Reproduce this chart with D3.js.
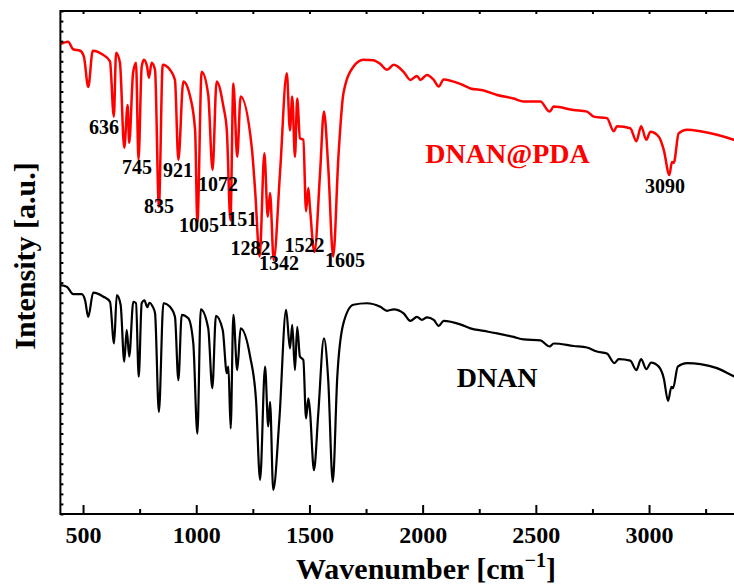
<!DOCTYPE html>
<html>
<head>
<meta charset="utf-8">
<script src="https://cdnjs.cloudflare.com/ajax/libs/d3/7.8.5/d3.min.js"></script>
<style>
  body { margin: 0; background: #fff; }
  svg text { font-family: "Liberation Serif", "Times New Roman", serif; font-weight: bold; }
</style>
</head>
<body>
<script>

var width = 734,
    height = 584;

var margin = { left: 60.4, top: 11, right: 739.6, bottom: 514 };

// DNAN@PDA spectrum, wavenumber / intensity (a.u.)
var pdaWn = [400, 434, 456, 487, 504, 523, 543, 588, 619, 636, 646, 663, 682, 697, 704, 721, 734, 745, 759, 769, 783, 791, 803, 818, 835, 852, 884, 906, 921, 943, 973, 995, 1005, 1024, 1053, 1072, 1090, 1120, 1135, 1151, 1164, 1181, 1196, 1245, 1260, 1280, 1301, 1316, 1326, 1342, 1370, 1400, 1414, 1424, 1436, 1446, 1458, 1473, 1485, 1495, 1502, 1522, 1547, 1564, 1583, 1605, 1628, 1650, 1694, 1738, 1782, 1812, 1843, 1872, 1916, 1946, 1975, 1990, 2019, 2049, 2071, 2093, 2166, 2211, 2270, 2329, 2402, 2446, 2520, 2561, 2579, 2667, 2726, 2756, 2814, 2844, 2859, 2917, 2944, 2965, 2988, 3006, 3043, 3065, 3090, 3101, 3109, 3131, 3168, 3227, 3300, 3374, 3400];
var pdaVal = [93.4, 93.9, 92.4, 92.1, 90.9, 84.9, 92.1, 91.3, 90.0, 79.0, 91.7, 89.7, 72.8, 81.3, 73.8, 87.7, 89.7, 70.4, 88.9, 90.3, 88.9, 86.7, 89.7, 88.3, 61.1, 89.3, 88.3, 86.3, 70.4, 86.0, 83.0, 76.3, 57.9, 87.9, 83.3, 68.4, 86.0, 81.0, 76.3, 58.4, 85.6, 71.0, 83.0, 73.0, 64.4, 51.2, 71.7, 59.1, 63.8, 50.5, 67.8, 87.6, 76.3, 83.0, 71.0, 82.6, 74.7, 74.4, 60.2, 64.8, 61.1, 52.1, 67.8, 80.0, 69.0, 51.2, 71.0, 83.6, 88.9, 90.3, 90.2, 89.5, 88.3, 89.3, 87.9, 86.3, 87.1, 86.3, 87.3, 86.3, 85.0, 86.4, 85.5, 84.6, 84.2, 83.3, 82.6, 82.0, 82.0, 80.0, 81.0, 80.3, 80.0, 79.0, 78.7, 76.1, 77.1, 76.7, 74.1, 77.1, 74.4, 76.0, 75.0, 72.4, 67.4, 70.0, 69.8, 75.7, 76.4, 76.1, 75.4, 74.4, 74.0];

// DNAN spectrum
var dnanWn = [400, 428, 457, 494, 509, 523, 545, 590, 619, 637, 649, 666, 682, 693, 704, 722, 734, 746, 759, 771, 784, 793, 808, 818, 835, 855, 884, 906, 921, 936, 965, 987, 1005, 1020, 1053, 1071, 1087, 1117, 1135, 1142, 1152, 1164, 1181, 1196, 1238, 1264, 1282, 1304, 1318, 1326, 1340, 1367, 1397, 1414, 1424, 1436, 1446, 1458, 1473, 1485, 1495, 1502, 1520, 1539, 1564, 1583, 1603, 1623, 1650, 1694, 1753, 1813, 1843, 1872, 1916, 1946, 1975, 1997, 2019, 2049, 2071, 2093, 2166, 2211, 2270, 2329, 2402, 2446, 2520, 2561, 2579, 2667, 2726, 2770, 2814, 2847, 2866, 2917, 2944, 2965, 2988, 3009, 3043, 3065, 3084, 3099, 3106, 3127, 3168, 3227, 3300, 3374, 3400];
var dnanVal = [45.5, 45.2, 43.7, 43.7, 42.5, 39.2, 44.0, 43.2, 42.2, 33.9, 43.5, 41.6, 30.3, 36.6, 31.3, 42.2, 41.9, 27.3, 41.9, 42.5, 41.1, 42.0, 41.2, 39.9, 20.3, 41.9, 41.2, 39.2, 26.6, 39.6, 38.9, 33.9, 16.0, 40.7, 36.9, 25.0, 39.4, 36.6, 28.0, 29.3, 17.0, 39.6, 28.6, 36.9, 31.3, 22.7, 6.8, 29.3, 17.4, 22.3, 4.8, 18.7, 40.6, 32.9, 37.6, 28.6, 37.2, 31.3, 30.6, 19.0, 23.0, 20.7, 8.7, 20.0, 34.9, 26.6, 6.4, 27.3, 37.9, 41.6, 41.9, 41.2, 40.4, 40.7, 39.9, 38.4, 39.2, 38.6, 39.1, 38.6, 37.4, 38.4, 37.7, 36.9, 36.4, 35.9, 35.2, 34.7, 34.5, 33.3, 33.9, 33.4, 33.1, 32.3, 31.9, 30.0, 30.8, 30.5, 28.6, 30.8, 28.8, 30.1, 29.3, 27.0, 22.5, 25.3, 25.0, 29.3, 30.0, 29.8, 29.0, 27.4, 26.9];

// peak labels: text, label anchor (wavenumber, intensity)
var peakText = ["636", "745", "921", "835", "1072", "1005", "1151", "1282", "1342", "1522", "1605", "3090"];
var peakWn   = [593, 738, 919, 836, 1096, 1012, 1184, 1240, 1366, 1478, 1657, 3070];
var peakVal  = [75.5, 67.6, 67.0, 59.8, 64.2, 56.1, 57.3, 51.5, 48.5, 52.1, 49.1, 63.8];

var seriesNames = ["DNAN@PDA", "DNAN"];
var seriesColors = ["#ff0000", "#000000"];
var nameWn = [2375, 2329];
var nameVal = [69.8, 25.2];

var xMajor = [500, 1000, 1500, 2000, 2500, 3000];
var xMinor = [750, 1250, 1750, 2250, 2750, 3250];

var svg = d3.select("body").append("svg")
    .attr("width", width)
    .attr("height", height);

var x = d3.scaleLinear().domain([400, 3400]).range([margin.left, margin.right]);
var y = d3.scaleLinear().domain([0, 100]).range([margin.bottom, margin.top]);

var line = d3.line()
    .x(function(d) { return x(d[0]); })
    .y(function(d) { return y(d[1]); })
    .curve(d3.curveMonotoneX);

var pda = d3.zip(pdaWn, pdaVal),
    dnan = d3.zip(dnanWn, dnanVal);

svg.append("path").datum(dnan)
    .attr("d", line)
    .attr("fill", "none")
    .attr("stroke", seriesColors[1])
    .attr("stroke-width", 2.2)
    .attr("stroke-linejoin", "round");

svg.append("path").datum(pda)
    .attr("d", line)
    .attr("fill", "none")
    .attr("stroke", seriesColors[0])
    .attr("stroke-width", 2.5)
    .attr("stroke-linejoin", "round");

// axes, ticks pointing inward
function styleAxis(g) {
  g.select(".domain").remove();
  g.selectAll("line").attr("stroke", "#000").attr("stroke-width", 2);
}

svg.append("g")
    .attr("transform", "translate(0," + margin.bottom + ")")
    .call(d3.axisBottom(x).tickValues(xMajor).tickSize(-9).tickFormat(d3.format("d")).tickPadding(12))
    .call(styleAxis)
    .selectAll("text")
    .attr("font-size", 24)
    .attr("fill", "#000");

svg.append("g")
    .attr("transform", "translate(0," + margin.bottom + ")")
    .call(d3.axisBottom(x).tickValues(xMinor).tickSize(-5).tickFormat(""))
    .call(styleAxis);

svg.append("g")
    .attr("transform", "translate(0," + margin.top + ")")
    .call(d3.axisTop(x).tickValues(xMajor.concat(xMinor)).tickSize(-3).tickFormat(""))
    .call(styleAxis);

svg.append("g")
    .attr("transform", "translate(" + margin.left + ",0)")
    .call(d3.axisLeft(y).ticks(50).tickSize(-3).tickFormat(""))
    .call(styleAxis);

// frame
svg.append("rect")
    .attr("x", margin.left)
    .attr("y", margin.top)
    .attr("width", margin.right - margin.left)
    .attr("height", margin.bottom - margin.top)
    .attr("fill", "none")
    .attr("stroke", "#000")
    .attr("stroke-width", 2);

// peak labels
svg.append("g").selectAll("text")
  .data(peakText)
  .enter().append("text")
    .attr("x", function(d, i) { return x(peakWn[i]); })
    .attr("y", function(d, i) { return y(peakVal[i]); })
    .attr("text-anchor", "middle")
    .attr("font-size", 20)
    .attr("fill", "#000")
    .text(function(d) { return d; });

// series names
svg.append("g").selectAll("text")
  .data(seriesNames)
  .enter().append("text")
    .attr("x", function(d, i) { return x(nameWn[i]); })
    .attr("y", function(d, i) { return y(nameVal[i]); })
    .attr("text-anchor", "middle")
    .attr("font-size", 28)
    .attr("fill", function(d, i) { return seriesColors[i]; })
    .text(function(d) { return d; });

// axis titles
var xt = svg.append("text")
    .attr("x", 426)
    .attr("y", 579)
    .attr("text-anchor", "middle")
    .attr("font-size", 30)
    .attr("fill", "#000");
xt.append("tspan").text("Wavenumber [cm");
xt.append("tspan").attr("font-size", 20).attr("dy", -12).text("\u22121");
xt.append("tspan").attr("dy", 12).text("]");

svg.append("text")
    .attr("transform", "translate(35,256) rotate(-90)")
    .attr("text-anchor", "middle")
    .attr("font-size", 30)
    .attr("fill", "#000")
    .text("Intensity [a.u.]");

</script>
</body>
</html>
